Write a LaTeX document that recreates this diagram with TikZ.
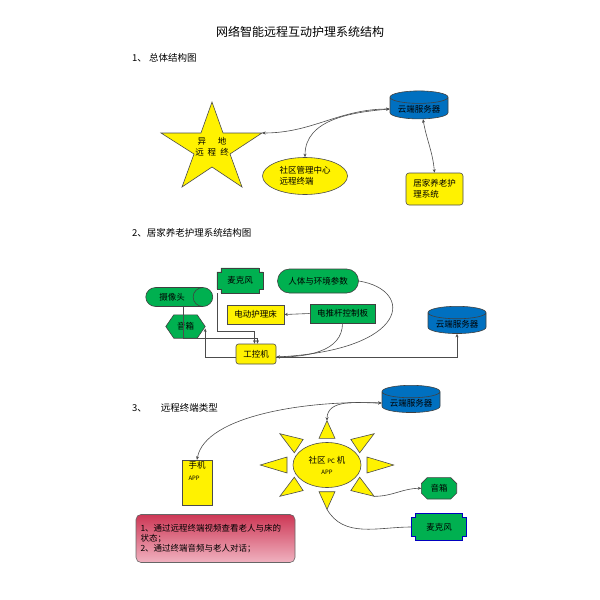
\documentclass[tikz,border=0pt]{standalone}
\usepackage{fontspec}
\setmainfont{Noto Sans CJK SC}
\usetikzlibrary{arrows.meta,shapes.geometric,shapes.misc,backgrounds,calc}

\definecolor{boxgreen}{RGB}{0,176,80}
\definecolor{cloudblue}{RGB}{0,112,192}
\definecolor{notered}{RGB}{205,55,85}
\definecolor{notepink}{RGB}{240,178,192}

% outlines drawn behind a plain node
\newcommand\notchframe[2]{%
  \begin{scope}[on background layer]
  \draw[#2] ($(#1.north west)+(4,0)$) -- ($(#1.north east)+(-4,0)$) -- ++(0,4) -- ++(4,0)
    -- ($(#1.south east)+(0,-4)$) -- ++(-4,0) -- ++(0,4)
    -- ($(#1.south west)+(4,0)$) -- ++(0,-4) -- ++(-4,0)
    -- ($(#1.north west)+(0,4)$) -- ++(4,0) -- cycle;
  \end{scope}}
\newcommand\hexframe[2]{%
  \begin{scope}[on background layer]
  \draw[#2] (#1.west) -- ($(#1.north west)+(8,0)$) -- ($(#1.north east)+(-8,0)$)
    -- (#1.east) -- ($(#1.south east)+(-8,0)$) -- ($(#1.south west)+(8,0)$) -- cycle;
  \end{scope}}
\newcommand\octframe[2]{%
  \begin{scope}[on background layer]
  \draw[#2] ($(#1.north west)+(0,6)$) -- ($(#1.north west)+(6,0)$) -- ($(#1.north east)+(-6,0)$)
    -- ($(#1.north east)+(0,6)$) -- ($(#1.south east)+(0,-6)$) -- ($(#1.south east)+(-6,0)$)
    -- ($(#1.south west)+(6,0)$) -- ($(#1.south west)+(0,-6)$) -- cycle;
  \end{scope}}

\begin{document}
\begin{tikzpicture}[x=1pt,y=-1pt,>={Stealth[length=3.5pt,width=3pt]},
  every node/.style={font=\fontsize{8.5}{10}\selectfont,inner sep=1pt},
  link/.style={black!70,line width=0.6pt},
  yshape/.style={draw=black!70,fill=yellow,line width=0.6pt},
  gshape/.style={draw=black!75,fill=boxgreen,line width=0.6pt},
  mshape/.style={gshape,draw=blue!75!black},
  cloud/.style={cylinder,shape border rotate=90,shape aspect=0.28,draw=black!75,
    fill=cloudblue,line width=0.6pt,minimum width=58pt,minimum height=28pt},
  heading/.style={anchor=west,font=\fontsize{9.5}{11}\selectfont}]
  \useasboundingbox (0,0) rectangle (600,600);

  \node[font=\fontsize{12}{14}\selectfont] (title) at (300,32) {网络智能远程互动护理系统结构};

  % part 1
  \node[heading] (sec1) at (131,58) {1、 总体结构图};
  \draw[yshape] (212,102) -- (223,133) -- (262,133) -- (230,154) -- (242,187)
    -- (212,167) -- (182,187) -- (194,154) -- (161,133) -- (201,133) -- cycle;
  \coordinate (startip) at (262,133);
  \node[align=center] (star) at (212,147) {异\hspace{12pt}地\\[1pt]远\hspace{4pt}程\hspace{4pt}终};

  \node[cloud] (cloud1) at (419,109) {云端服务器};
  \node[yshape,ellipse,minimum width=85pt,minimum height=37pt,align=left] (commc)
    at (305,176) {社区管理中心\\[1pt]远程终端};
  \node[yshape,rounded corners=3pt,minimum width=57pt,minimum height=32pt,align=left]
    (home) at (434.5,189) {居家养老护\\[1pt]理系统};

  \draw[link,<->] (startip) to[out=0,in=180] (cloud1.west);
  \draw[link,<->] (commc.north) to[out=90,in=185] (cloud1.west);
  \draw[link,<->] ([xshift=4pt]cloud1.south) to[out=-80,in=95] (home.north);

  % part 2
  \node[heading] (sec2) at (131,233) {2、居家养老护理系统结构图};
  \node[minimum width=46pt,minimum height=25pt] (mic) at (240,280.5) {麦克风};
  \notchframe{mic}{gshape}
  \node[gshape,rounded rectangle,minimum width=83pt,minimum height=24pt] (params)
    at (318,281) {人体与环境参数};
  \node[gshape,cylinder,shape aspect=2,minimum width=19pt,minimum height=67pt] (cam)
    at (172,297) {摄像头};
  \node[yshape,minimum width=57pt,minimum height=19pt] (bed) at (255.5,314.5) {电动护理床};
  \node[gshape,minimum width=65pt,minimum height=19pt] (board) at (342.5,313.5) {电推杆控制板};
  \node[minimum width=39pt,minimum height=23pt] (spk) at (185.5,326.5) {音箱};
  \hexframe{spk}{gshape}
  \node[yshape,rounded corners=2.5pt,minimum width=40pt,minimum height=20pt] (gkj)
    at (256,354) {工控机};
  \node[cloud,minimum height=26pt] (cloud2) at (457,324) {云端服务器};
  \coordinate (gkjin) at ([yshift=-3pt]gkj.east);

  \draw[link,->] (board.west) -- (bed.east);
  \draw[link,->] (mic.south west) -- ++(0,38) -| ([xshift=-1.5pt]gkj.north);
  \draw[link,->] ([xshift=1pt]cam.south east) -- ++(0,31) -| ([xshift=1.5pt]gkj.north);
  \draw[link,->] ([yshift=-3pt]gkj.west) -| ([yshift=-2pt]spk.east);
  \draw[link,->] (board.south) to[out=-90,in=0] (gkjin);
  \draw[link,->] (params.east) .. controls (415,290) and (410,350) .. (gkjin);
  \draw[link,->] (gkjin) -| (cloud2.south);

  % part 3
  \node[heading] (sec3) at (131,408) {3、\hspace{14pt}远程终端类型};
  \node[cloud,minimum height=21pt] (cloud3) at (411,403) {云端服务器};
  \foreach \a in {0,45,...,315}{
    \coordinate (ray\a) at ({327+66.7*cos(\a)},{465+44.3*sin(\a)});
    \coordinate (base\a) at ({327+40*cos(\a)},{465+26.7*sin(\a)});
    \draw[yshape] (ray\a) -- ($(base\a)!8pt!90:(ray\a)$) -- ($(base\a)!8pt!-90:(ray\a)$) -- cycle;
  }
  \node[yshape,ellipse,minimum width=68pt,minimum height=45pt,align=center] (sun)
    at (327,465) {社区 {\fontsize{6}{7}\selectfont PC} 机\\[1pt]{\fontsize{6}{7}\selectfont APP}};
  \node[yshape,minimum width=30pt,minimum height=43pt,align=left,text depth=24pt]
    (phone) at (197,482.7) {手机\\[2pt]{\fontsize{6}{7}\selectfont APP}};
  \node[minimum width=35pt,minimum height=21pt] (spk3) at (439,488.3) {音箱};
  \octframe{spk3}{gshape}
  \node[minimum width=55pt,minimum height=27pt] (mic3) at (439,527) {麦克风};
  \notchframe{mic3}{mshape}
  \node[draw=black!60,rounded corners=5pt,top color=notered,bottom color=notepink,
    minimum width=159pt,minimum height=48pt,align=left,text width=150pt,line width=0.6pt]
    (note) at (215.5,538.5) {1、通过远程终端视频查看老人与床的\\状态；\\2、通过终端音频与老人对话；};

  \draw[link,<->] (cloud3.west) .. controls (310,400) and (205,415) .. (phone.north);
  \draw[link,<->] (ray270) to[out=90,in=180] (cloud3.west);
  \draw[link,->] (ray45) to[out=0,in=180] (spk3.west);
  \draw[link] (ray90) to[out=-60,in=180] (mic3.west);
\end{tikzpicture}
\end{document}
